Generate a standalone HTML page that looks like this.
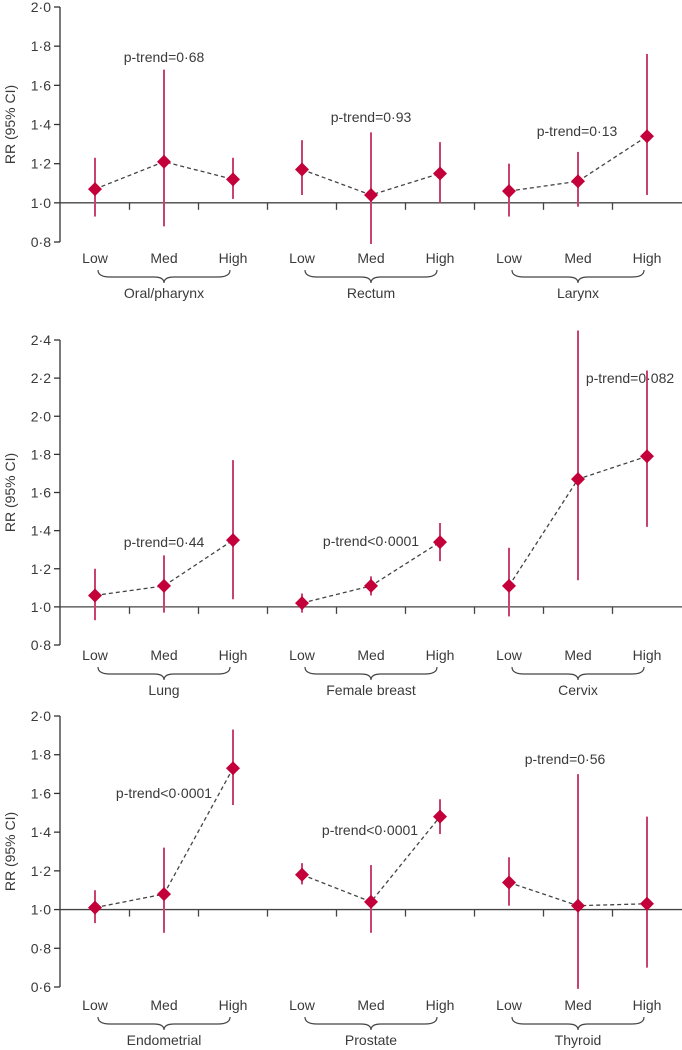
<!DOCTYPE html>
<html><head><meta charset="utf-8"><style>
body{margin:0;background:#fff}
svg{display:block;font-family:"Liberation Sans",sans-serif}
text{fill:#3a3a3a;font-size:14px}
</style></head><body>
<svg id="chart" width="682" height="1050" viewBox="0 0 682 1050" xmlns="http://www.w3.org/2000/svg"></svg>
<script>
const levels=["Low","Med","High"];
const p1Sites=["Oral/pharynx","Rectum","Larynx"];
const p1RR=[1.07,1.21,1.12,1.17,1.04,1.15,1.06,1.11,1.34];
const p1Lo=[0.93,0.88,1.02,1.04,0.79,1.00,0.93,0.98,1.04];
const p1Hi=[1.23,1.68,1.23,1.32,1.36,1.31,1.20,1.26,1.76];
const p1Trend=["p-trend=0·68","p-trend=0·93","p-trend=0·13"];
const p1Ticks=[0.8,1.0,1.2,1.4,1.6,1.8,2.0];
const p2Sites=["Lung","Female breast","Cervix"];
const p2RR=[1.06,1.11,1.35,1.02,1.11,1.34,1.11,1.67,1.79];
const p2Lo=[0.93,0.97,1.04,0.97,1.06,1.24,0.95,1.14,1.42];
const p2Hi=[1.20,1.27,1.77,1.07,1.16,1.44,1.31,2.45,2.24];
const p2Trend=["p-trend=0·44","p-trend<0·0001","p-trend=0·082"];
const p2Ticks=[0.8,1.0,1.2,1.4,1.6,1.8,2.0,2.2,2.4];
const p3Sites=["Endometrial","Prostate","Thyroid"];
const p3RR=[1.01,1.08,1.73,1.18,1.04,1.48,1.14,1.02,1.03];
const p3Lo=[0.93,0.88,1.54,1.13,0.88,1.39,1.02,0.59,0.70];
const p3Hi=[1.10,1.32,1.93,1.24,1.23,1.57,1.27,1.70,1.48];
const p3Trend=["p-trend<0·0001","p-trend<0·0001","p-trend=0·56"];
const p3Ticks=[0.6,0.8,1.0,1.2,1.4,1.6,1.8,2.0];

const svg=document.getElementById('chart');
const NS="http://www.w3.org/2000/svg";
function mk(tag,attrs,parent,txt){const e=document.createElementNS(NS,tag);for(const k in attrs)e.setAttribute(k,attrs[k]);if(txt!==undefined)e.textContent=txt;parent.appendChild(e);return e;}
const xPos=i=>95+69*i;

function panel(o){
  const g=mk('g',{},svg);
  
  
  const yMin=o.ticks[0],yMax=o.ticks[o.ticks.length-1];
  const y=v=>o.yTop+(yMax-v)/(yMax-yMin)*(o.yBot-o.yTop);
  const ax=mk('line',{x1:60,x2:60,y1:y(yMax),y2:y(yMin),stroke:'#333','stroke-width':1.3},g);
  
  
  o.ticks.forEach(t=>{
    mk('line',{x1:54,x2:60,y1:y(t),y2:y(t),stroke:'#333','stroke-width':1.3},g);
    const tl=mk('text',{x:51,y:y(t)+5,'text-anchor':'end'},g,t.toFixed(1).replace('.','·'));
    
    
  });
  const yt=mk('text',{x:0,y:0,transform:`translate(15,${(y(yMax)+y(yMin))/2}) rotate(-90)`,'text-anchor':'middle'},g,'RR (95% CI)');
  
  
  const base=mk('line',{x1:60,x2:682,y1:y(1),y2:y(1),stroke:'#444','stroke-width':1.3},g);
  
  
  for(let k=0;k<8;k++){const tx=129.5+69*k;mk('line',{x1:tx,x2:tx,y1:y(1),y2:y(1)+7,stroke:'#444','stroke-width':1.3},g);}
  for(let s=0;s<3;s++){
    const ids=[3*s,3*s+1,3*s+2];
    const pts=ids.map(i=>xPos(i)+','+y(o.rr[i])).join(' ');
    const pl=mk('polyline',{points:pts,fill:'none',stroke:'#444','stroke-width':1.3,'stroke-dasharray':'4,3'},g);
    
    
    ids.forEach((i,j)=>{
      const cx=xPos(i),cy=y(o.rr[i]);
      const ci=mk('line',{x1:cx,x2:cx,y1:y(o.hi[i]),y2:y(o.lo[i]),stroke:'#c8446e','stroke-width':2},g);
      
      
      const d=mk('polygon',{points:`${cx},${cy-7} ${cx+7},${cy} ${cx},${cy+7} ${cx-7},${cy}`,fill:'#c4003a'},g);
      
      
      const lt=mk('text',{x:cx,y:o.labY,'text-anchor':'middle'},g,levels[j]);
      
      
    });
    const x0=xPos(3*s)+3,x2=xPos(3*s+2)-3,xm=xPos(3*s+1),b=o.labY+7;
    const br=mk('path',{d:`M${x0},${b} Q${x0},${b+7} ${x0+12},${b+7} L${xm-10},${b+7} Q${xm},${b+7} ${xm},${b+13} Q${xm},${b+7} ${xm+10},${b+7} L${x2-12},${b+7} Q${x2},${b+7} ${x2},${b}`,fill:'none',stroke:'#444','stroke-width':1.2},g);
    
    
    const st=mk('text',{x:xm,y:o.labY+35,'text-anchor':'middle'},g,o.sites[s]);
    
    
    const pt=mk('text',{x:o.trendX[s],y:o.trendY[s],'text-anchor':'middle'},g,o.trend[s]);
    
    
  }
}
panel({name:'panel-top',ticks:p1Ticks,yTop:7,yBot:242,rr:p1RR,lo:p1Lo,hi:p1Hi,sites:p1Sites,trend:p1Trend,labY:263,trendX:[164,371,577],trendY:[62,122,136]});
panel({name:'panel-middle',ticks:p2Ticks,yTop:340,yBot:645,rr:p2RR,lo:p2Lo,hi:p2Hi,sites:p2Sites,trend:p2Trend,labY:660,trendX:[164,371,630],trendY:[547,546,383]});
panel({name:'panel-bottom',ticks:p3Ticks,yTop:716,yBot:987,rr:p3RR,lo:p3Lo,hi:p3Hi,sites:p3Sites,trend:p3Trend,labY:1010,trendX:[164,370,565],trendY:[798,835,764]});
</script>
</body></html>
